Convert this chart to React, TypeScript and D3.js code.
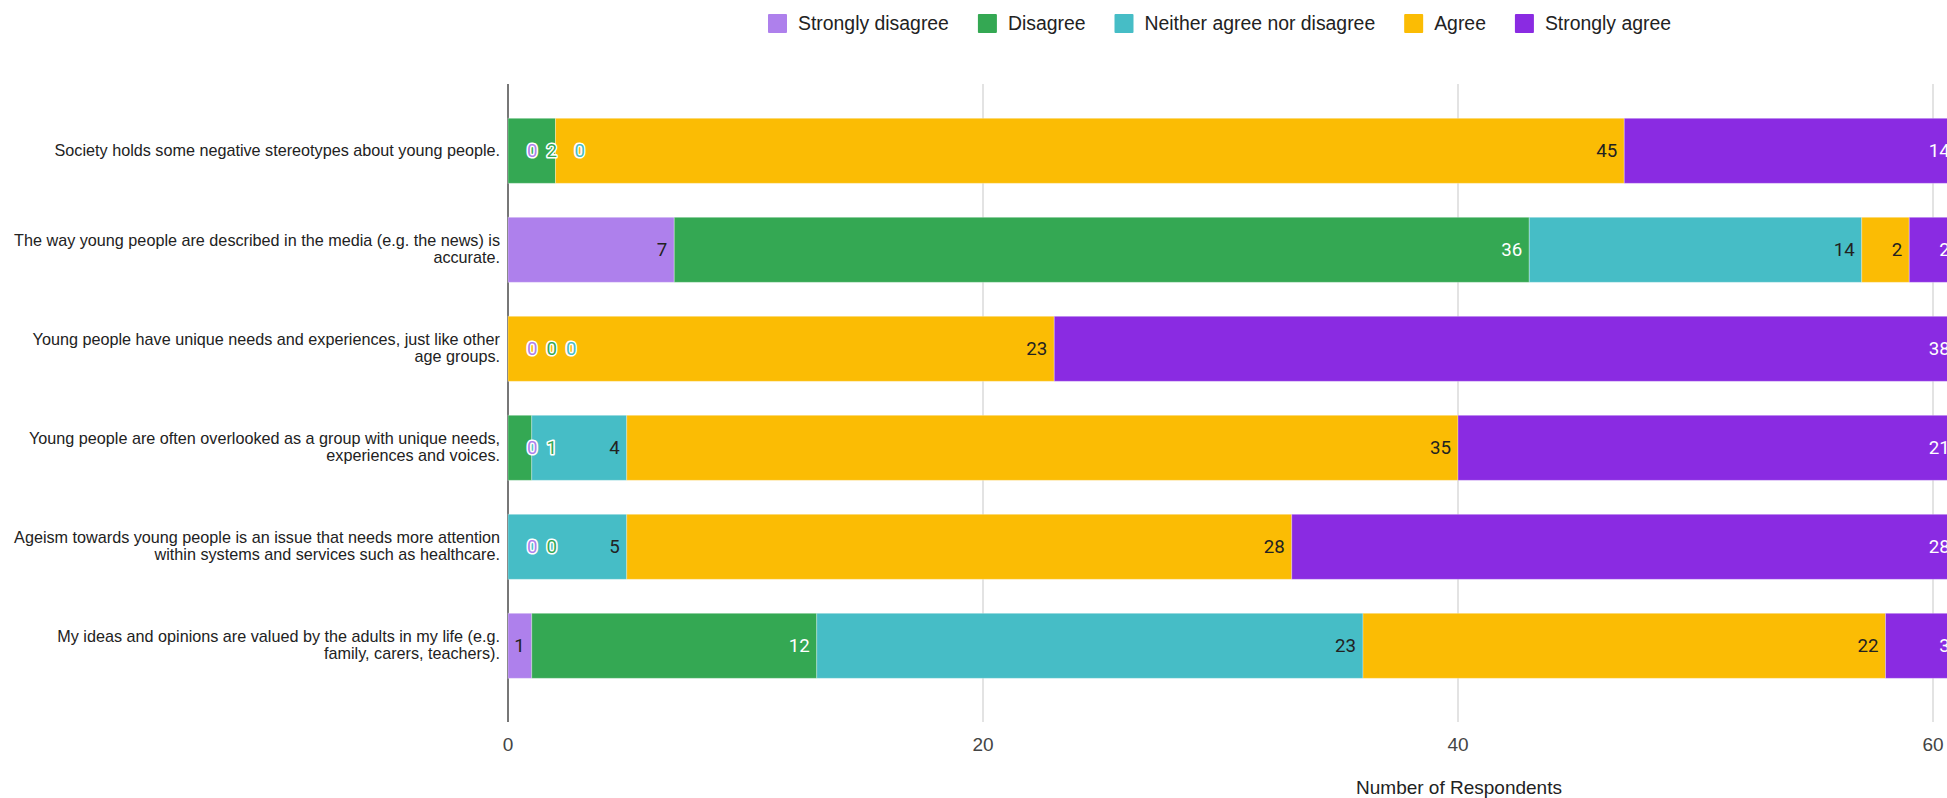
import React from "react";
import * as d3 from "d3";

const categories = [
  "Society holds some negative stereotypes about young people.",
  "The way young people are described in the media (e.g. the news) is\naccurate.",
  "Young people have unique needs and experiences, just like other\nage groups.",
  "Young people are often overlooked as a group with unique needs,\nexperiences and voices.",
  "Ageism towards young people is an issue that needs more attention\nwithin systems and services such as healthcare.",
  "My ideas and opinions are valued by the adults in my life (e.g.\nfamily, carers, teachers).",
];

const seriesNames = ["Strongly disagree", "Disagree", "Neither agree nor disagree", "Agree", "Strongly agree"];
const stronglyDisagree = [0, 7, 0, 0, 0, 1];
const disagree = [2, 36, 0, 1, 0, 12];
const neither = [0, 14, 0, 4, 5, 23];
const agree = [45, 2, 23, 35, 28, 22];
const stronglyAgree = [14, 2, 38, 21, 28, 3];
const seriesColors = ["#ae80ec", "#34a853", "#46bdc6", "#fbbc04", "#8a2be2"];
const labelColors = ["#222222", "#ffffff", "#222222", "#222222", "#ffffff"];
const xTicks = [0, 20, 40, 60];
const xTitle = "Number of Respondents";

const W = 1947;
const H = 798;
const SANS = "'Liberation Sans', Arial, sans-serif";
const ROBOTO = "Roboto, 'Noto Sans', sans-serif";

function measure(text: string, font: string): number {
  const c = document.createElement("canvas").getContext("2d");
  if (!c) return text.length * 9;
  c.font = font;
  return c.measureText(text).width;
}

export default function App() {
  const seriesValues = [stronglyDisagree, disagree, neither, agree, stronglyAgree];
  const rows = categories.map((cat, i) => {
    const r: any = { cat };
    seriesNames.forEach((s, j) => (r[s] = seriesValues[j][i]));
    return r;
  });
  const stack = d3.stack<any>().keys(seriesNames)(rows);

  const x = d3.scaleLinear().domain([0, 60]).range([508, 1933]);
  const y = d3
    .scaleBand<string>()
    .domain(categories)
    .range([101.3, 695.3])
    .paddingInner(0.343)
    .paddingOuter(0.1715);

  const gridTop = 84;
  const gridBottom = 722;
  const labelFs = 18.7;
  const digitW = 0.5615 * labelFs;

  // data labels
  const labels: any[] = [];
  categories.forEach((cat, i) => {
    let prevRight: number | null = null;
    stack.forEach((layer, j) => {
      const v = seriesValues[j][i];
      const x1 = x(layer[i][1]);
      const txt = String(v);
      const w = txt.length * digitW;
      let left: number;
      let halo = false;
      if (v === 0) {
        left = x1 + 19;
        halo = true;
      } else {
        left = x1 - 7 - w;
      }
      if (prevRight !== null && left < prevRight + 9) {
        left = prevRight + 9;
        halo = true;
      }
      prevRight = left + w;
      labels.push({ key: `${i}-${j}`, txt, left, cy: (y(cat) as number) + y.bandwidth() / 2, halo, j });
    });
  });

  // legend layout
  const legendFs = 19.4;
  const legendFont = `${legendFs}px ${SANS}`;
  let lx = 768;
  const legendItems = seriesNames.map((s, j) => {
    const tw = measure(s, legendFont);
    const item = { s, j, x: lx };
    lx += 19 + 11 + tw + 29;
    return item;
  });

  return (
    <svg
      width={W}
      height={H}
      style={{ position: "absolute", left: 0, top: 0, display: "block", background: "#fff" }}
    >
      {/* legend */}
      {legendItems.map((it) => (
        <g key={it.s}>
          <rect x={it.x} y={14} width={19} height={19} fill={seriesColors[it.j]} rx={1} />
          <text
            x={it.x + 19 + 11}
            y={23.5}
            dy="0.35em"
            fontFamily={SANS}
            fontSize={legendFs}
            fill="#222"
          >
            {it.s}
          </text>
        </g>
      ))}

      {/* gridlines */}
      {xTicks.map((t) => (
        <line
          key={t}
          x1={x(t)}
          x2={x(t)}
          y1={gridTop}
          y2={gridBottom}
          stroke={t === 0 ? "#555" : "#d0d0d0"}
          strokeWidth={t === 0 ? 1.6 : 1.2}
        />
      ))}

      {/* bars */}
      {stack.map((layer, j) => (
        <g key={seriesNames[j]}>
          {layer.map((d, i) => {
            const w = x(d[1]) - x(d[0]);
            if (w <= 0) return null;
            return (
              <rect
                key={i}
                x={x(d[0])}
                y={y(categories[i]) as number}
                width={w}
                height={y.bandwidth()}
                fill={seriesColors[j]}
                stroke="#ffffff"
                strokeOpacity={0.3}
                strokeWidth={1}
              />
            );
          })}
        </g>
      ))}

      {/* data labels */}
      {labels.map((l) => (
        <text
          key={l.key}
          x={l.left}
          y={l.cy}
          dy="0.35em"
          fontFamily={ROBOTO}
          fontSize={labelFs}
          fill={l.halo ? seriesColors[l.j] : labelColors[l.j]}
          stroke={l.halo ? "#ffffff" : "none"}
          strokeWidth={l.halo ? 3.2 : 0}
          strokeLinejoin="round"
          style={{ paintOrder: "stroke" }}
        >
          {l.txt}
        </text>
      ))}

      {/* y-axis labels */}
      {categories.map((cat) => {
        const lines = cat.split("\n");
        const cy = (y(cat) as number) + y.bandwidth() / 2;
        const lh = 17.3;
        const start = cy - ((lines.length - 1) * lh) / 2 - (lines.length > 1 ? 1 : 0);
        return (
          <text key={cat} fontFamily={SANS} fontSize={16.2} fill="#222" textAnchor="end">
            {lines.map((ln, k) => (
              <tspan key={k} x={500} y={start + k * lh} dy="0.35em">
                {ln}
              </tspan>
            ))}
          </text>
        );
      })}

      {/* x tick labels */}
      {xTicks.map((t) => (
        <text
          key={t}
          x={x(t)}
          y={744}
          dy="0.35em"
          textAnchor="middle"
          fontFamily={SANS}
          fontSize={19}
          fill="#444"
        >
          {t}
        </text>
      ))}

      {/* x title */}
      <text
        x={1459}
        y={787}
        dy="0.35em"
        textAnchor="middle"
        fontFamily={SANS}
        fontSize={19}
        fill="#222"
      >
        {xTitle}
      </text>
    </svg>
  );
}
